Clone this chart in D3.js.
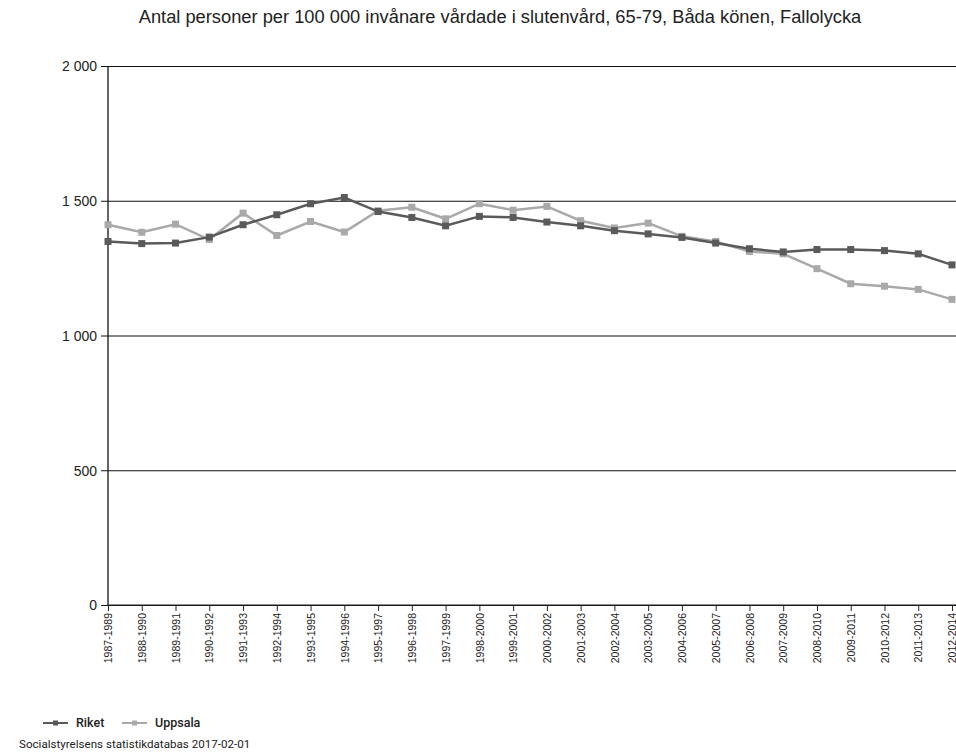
<!DOCTYPE html>
<html>
<head>
<meta charset="utf-8">
<script src="https://cdn.jsdelivr.net/npm/d3@7"></script>
<style>
  body { margin: 0; background: #fff; }
  svg { display: block; font-family: "Liberation Sans", Arial, sans-serif; }
  .title { font-size: 18.3px; fill: #222; }
  .y-tick text { font-size: 14px; fill: #222; }
  .x-tick text { font-size: 10.5px; fill: #222; }
  .legend text { font-family: Roboto, sans-serif; font-size: 12.5px; font-weight: 500; fill: #222; }
  .source { font-family: Roboto, sans-serif; font-size: 11.6px; fill: #222; }
</style>
</head>
<body>
<div id="wrapper"></div>
<script>
// data
const periods = [
  '1987-1989', '1988-1990', '1989-1991', '1990-1992', '1991-1993', '1992-1994',
  '1993-1995', '1994-1996', '1995-1997', '1996-1998', '1997-1999', '1998-2000',
  '1999-2001', '2000-2002', '2001-2003', '2002-2004', '2003-2005', '2004-2006',
  '2005-2007', '2006-2008', '2007-2009', '2008-2010', '2009-2011', '2010-2012',
  '2011-2013', '2012-2014'
];
const riket = [
  1349, 1341, 1343, 1365, 1411, 1448, 1489, 1512, 1460, 1438, 1407, 1442,
  1438, 1421, 1407, 1389, 1377, 1364, 1343, 1322, 1310, 1319, 1319, 1315,
  1303, 1262
];
const uppsala = [
  1411, 1383, 1413, 1356, 1454, 1371, 1423, 1384, 1463, 1476, 1433, 1489,
  1465, 1479, 1426, 1399, 1417, 1368, 1349, 1312, 1303, 1248, 1192, 1183,
  1171, 1134
];
const yTicks = [0, 500, 1000, 1500, 2000];
const seriesNames = ['Riket', 'Uppsala'];
const seriesColors = ['#5a5a5a', '#a9a9a9'];

const title = 'Antal personer per 100 000 invånare vårdade i slutenvård, 65-79, Båda könen, Fallolycka';
const source = 'Socialstyrelsens statistikdatabas 2017-02-01';

// dimensions
const dimensions = {
  width: 956,
  height: 756,
  margin: { top: 66, right: 4, bottom: 151, left: 108 }
};
dimensions.boundedWidth = dimensions.width - dimensions.margin.left - dimensions.margin.right;
dimensions.boundedHeight = dimensions.height - dimensions.margin.top - dimensions.margin.bottom;

const wrapper = d3.select('#wrapper')
  .append('svg')
  .attr('width', dimensions.width)
  .attr('height', dimensions.height);

wrapper.append('text')
  .attr('class', 'title')
  .attr('x', 500)
  .attr('y', 23)
  .attr('text-anchor', 'middle')
  .text(title);

const bounds = wrapper.append('g')
  .attr('transform', `translate(${dimensions.margin.left},${dimensions.margin.top})`);

// scales
const xScale = d3.scalePoint()
  .domain(periods)
  .range([0, dimensions.boundedWidth]);

const yScale = d3.scaleLinear()
  .domain([0, 2000])
  .range([dimensions.boundedHeight, 0]);

// gridlines + y axis
const yAxisGenerator = d3.axisLeft(yScale)
  .tickValues(yTicks)
  .tickSize(-(dimensions.boundedWidth + 10))
  .tickPadding(3)
  .tickFormat(d => d3.format(',')(d).replace(',', ' '));

const yAxis = bounds.append('g').call(yAxisGenerator);
yAxis.select('.domain').remove();
yAxis.selectAll('.tick').attr('class', 'tick y-tick');
yAxis.selectAll('.tick line')
  .attr('x1', -7)
  .attr('stroke', '#111')
  .attr('stroke-width', 1.2);
yAxis.selectAll('.tick text').attr('x', -11).attr('dy', '0.35em');

bounds.append('line')
  .attr('x1', 0).attr('x2', 0)
  .attr('y1', 0).attr('y2', dimensions.boundedHeight)
  .attr('stroke', '#111')
  .attr('stroke-width', 1.3);

// x axis
const xAxisGenerator = d3.axisBottom(xScale).tickSize(6).tickPadding(3);
const xAxis = bounds.append('g')
  .attr('transform', `translate(0,${dimensions.boundedHeight})`)
  .call(xAxisGenerator);
xAxis.select('.domain')
  .attr('d', `M0,0H${dimensions.boundedWidth + 10}`)
  .attr('stroke', '#222')
  .attr('stroke-width', 1.2);
xAxis.selectAll('.tick').attr('class', 'tick x-tick');
xAxis.selectAll('.tick line').attr('stroke', '#222');
xAxis.selectAll('.tick text')
  .attr('transform', 'rotate(-90)')
  .attr('x', -8)
  .attr('y', 0)
  .attr('dy', '0.35em')
  .style('text-anchor', 'end');

// lines
const series = [riket, uppsala];
const lineGenerator = d3.line()
  .x((d, i) => xScale(periods[i]))
  .y(d => yScale(d));

// Uppsala drawn first so Riket sits on top
[1, 0].forEach(k => {
  bounds.append('path')
    .datum(series[k])
    .attr('d', lineGenerator)
    .attr('fill', 'none')
    .attr('stroke', seriesColors[k])
    .attr('stroke-width', 2.5);

  bounds.selectAll(`.mark-${k}`)
    .data(series[k])
    .enter().append('rect')
    .attr('class', `mark-${k}`)
    .attr('x', (d, i) => xScale(periods[i]) - 3.5)
    .attr('y', d => yScale(d) - 3.5)
    .attr('width', 7)
    .attr('height', 7)
    .attr('fill', seriesColors[k]);
});

// legend
const legend = wrapper.append('g').attr('class', 'legend');
const legendX = [43, 122];
seriesNames.forEach((name, k) => {
  const g = legend.append('g').attr('transform', `translate(${legendX[k]},723)`);
  g.append('line')
    .attr('x1', 0).attr('x2', 25)
    .attr('stroke', seriesColors[k])
    .attr('stroke-width', 2);
  g.append('rect')
    .attr('x', 10).attr('y', -2.5)
    .attr('width', 5).attr('height', 5)
    .attr('fill', seriesColors[k]);
  g.append('text')
    .attr('x', 33)
    .attr('y', 0)
    .attr('dy', '0.35em')
    .text(name);
});

wrapper.append('text')
  .attr('class', 'source')
  .attr('x', 19)
  .attr('y', 748)
  .text(source);
</script>
</body>
</html>
